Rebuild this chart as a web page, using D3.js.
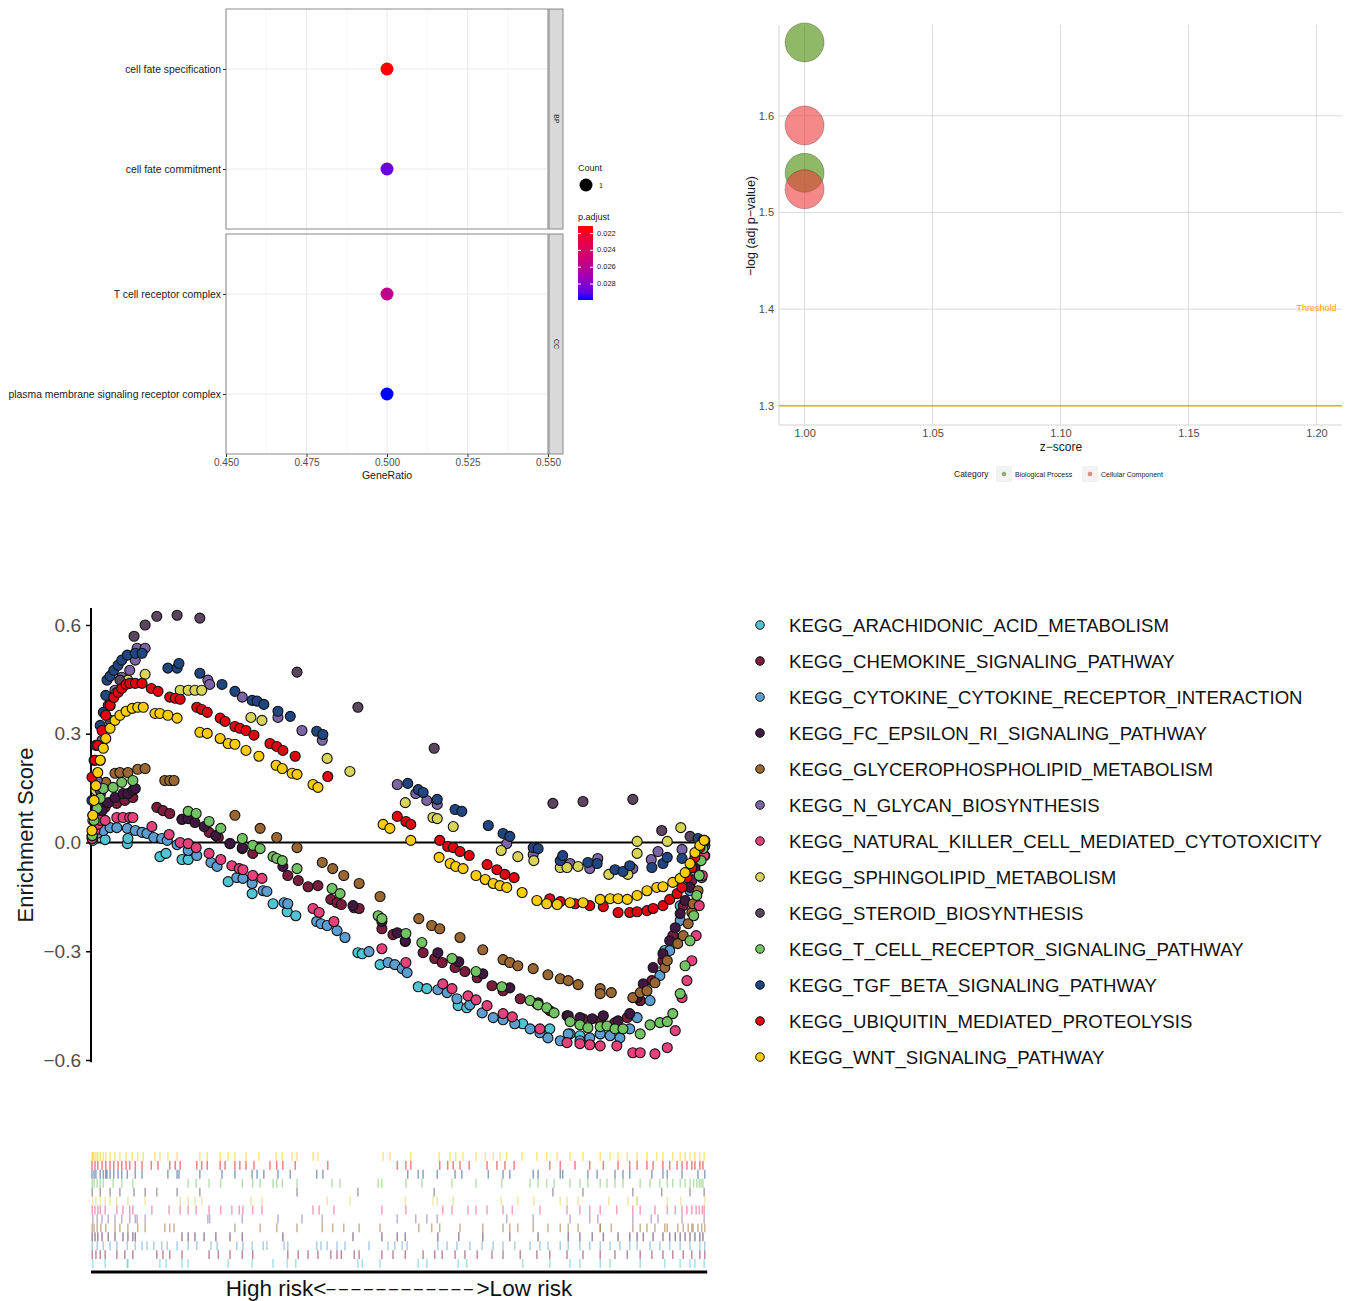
<!DOCTYPE html>
<html>
<head>
<meta charset="UTF-8">
<script src="https://d3js.org/d3.v7.min.js"></script>
<style>
    body { margin: 0; background: #fff; }
    svg { font-family: "Liberation Sans", Arial, sans-serif; }
</style>
</head>
<body>
<svg></svg>
<script>
    let width = 1346, height = 1301;

    // ---- GO dot plot data
    let goTerms = ["cell fate specification", "cell fate commitment", "T cell receptor complex", "plasma membrane signaling receptor complex"];
    let goOntology = ["BP", "BP", "CC", "CC"];
    let geneRatio = [0.5, 0.5, 0.5, 0.5];
    let goCount = [1, 1, 1, 1];
    let pAdjust = [0.0211, 0.0288, 0.0257, 0.0299];
    let ratioTicks = [0.450, 0.475, 0.500, 0.525, 0.550];
    let pTicks = [0.022, 0.024, 0.026, 0.028];

    // ---- GO bubble data
    let zScore = [1, 1, 1, 1];
    let bubbleCategory = ["Biological Process", "Biological Process", "Cellular Component", "Cellular Component"];
    let negLogP = [1.676, 1.541, 1.590, 1.524];
    let zTicks = [1.00, 1.05, 1.10, 1.15, 1.20];
    let logTicks = [1.3, 1.4, 1.5, 1.6];
    let threshold = 1.3;

    // ---- GSEA running scores, [rank % of list, enrichment score] at each hit
    let arachidonic = [[0.3,0.006],[2.3,0.008],[5.9,-0.003],[6.0,0.011],[11.2,-0.039],[12.2,-0.030],[14.8,-0.047],[15.8,-0.047],[22.3,-0.108],[26.2,-0.141],[29.6,-0.169],[31.9,-0.191],[33.3,-0.202],[43.4,-0.304],[44.1,-0.307],[47.0,-0.337],[53.2,-0.398],[54.6,-0.403],[59.7,-0.450],[61.1,-0.456],[70.2,-0.500],[74.6,-0.514],[77.9,-0.528],[79.5,-0.533],[82.8,-0.528],[84.4,-0.506],[89.3,-0.436],[93.3,-0.298],[95.8,-0.174],[97.4,-0.124],[98.2,-0.077],[99.7,-0.011]];
    let chemokine = [[0.2,0.017],[0.8,0.047],[1.5,0.075],[2.3,0.097],[4.2,0.108],[5.5,0.116],[6.8,0.124],[10.7,0.097],[11.7,0.088],[12.8,0.080],[14.8,0.064],[19.2,0.028],[20.7,0.014],[22.6,-0.003],[24.6,-0.017],[26.3,-0.030],[32.0,-0.091],[33.7,-0.105],[35.3,-0.122],[36.9,-0.119],[39.0,-0.157],[40.0,-0.166],[40.7,-0.171],[42.8,-0.180],[43.6,-0.182],[47.3,-0.238],[49.1,-0.254],[51.1,-0.273],[54.0,-0.304],[55.9,-0.320],[57.1,-0.331],[59.2,-0.345],[60.8,-0.356],[62.8,-0.373],[65.2,-0.395],[67.0,-0.409],[69.8,-0.431],[72.5,-0.445],[74.6,-0.464],[77.4,-0.478],[80.0,-0.486],[82.8,-0.492],[85.2,-0.497],[87.2,-0.483],[89.3,-0.436],[91.2,-0.381],[93.0,-0.326],[94.6,-0.257],[96.3,-0.174],[97.7,-0.105],[99.0,-0.050],[99.8,-0.008]];
    let cytokine = [[0.2,0.011],[1.0,0.025],[2.0,0.033],[3.1,0.041],[4.2,0.041],[5.9,0.039],[7.2,0.033],[8.3,0.028],[9.1,0.025],[10.2,0.014],[11.5,0.011],[12.4,0.006],[14.0,-0.006],[15.8,-0.022],[17.2,-0.036],[19.5,-0.055],[20.5,-0.066],[23.7,-0.097],[24.7,-0.099],[26.2,-0.113],[28.0,-0.133],[28.6,-0.135],[31.4,-0.166],[32.0,-0.169],[36.7,-0.218],[37.4,-0.224],[38.4,-0.229],[40.0,-0.243],[41.3,-0.262],[45.2,-0.301],[48.3,-0.331],[49.4,-0.337],[50.6,-0.348],[51.4,-0.359],[56.4,-0.406],[57.9,-0.414],[59.5,-0.431],[61.6,-0.448],[63.6,-0.470],[65.4,-0.483],[67.0,-0.489],[68.9,-0.500],[71.4,-0.514],[73.0,-0.525],[74.3,-0.539],[76.3,-0.547],[77.6,-0.528],[79.5,-0.547],[81.1,-0.539],[82.8,-0.528],[84.4,-0.533],[86.0,-0.539],[87.6,-0.514],[88.8,-0.483],[90.9,-0.436],[92.5,-0.367],[94.1,-0.298],[95.8,-0.215],[97.4,-0.133],[99.0,-0.050],[99.8,-0.008]];
    let fcEpsilon = [[0.2,0.014],[0.65,0.039],[1.1,0.066],[1.8,0.088],[2.8,0.110],[3.9,0.124],[5.2,0.135],[6.0,0.135],[6.8,0.144],[7.2,0.149],[14.8,0.064],[15.8,0.066],[16.9,0.055],[18.4,0.044],[20.3,0.019],[22.6,-0.003],[24.6,-0.014],[31.2,-0.066],[42.6,-0.174],[47.3,-0.218],[49.8,-0.249],[51.1,-0.271],[56.4,-0.304],[59.8,-0.329],[63.7,-0.362],[68.1,-0.401],[72.7,-0.442],[77.6,-0.478],[79.5,-0.483],[81.5,-0.486],[83.3,-0.478],[85.7,-0.492],[87.6,-0.472],[88.8,-0.428],[89.8,-0.390],[91.4,-0.345],[93.0,-0.307],[94.1,-0.271],[95.0,-0.235],[95.8,-0.196],[96.6,-0.160],[97.4,-0.124],[98.2,-0.069],[99.0,-0.030],[99.5,-0.008]];
    let glycero = [[0.2,0.019],[0.5,0.061],[1.0,0.102],[1.6,0.138],[2.4,0.166],[3.9,0.191],[4.7,0.193],[6.0,0.193],[7.6,0.202],[8.8,0.204],[12.0,0.171],[12.8,0.171],[13.5,0.171],[23.4,0.075],[27.5,0.039],[30.2,0.014],[33.5,-0.014],[37.6,-0.055],[39.3,-0.072],[41.1,-0.091],[43.6,-0.113],[47.0,-0.149],[53.3,-0.210],[55.4,-0.229],[56.7,-0.238],[60.0,-0.262],[63.7,-0.296],[67.0,-0.323],[68.1,-0.331],[69.4,-0.340],[71.9,-0.348],[74.3,-0.365],[76.3,-0.376],[77.6,-0.381],[79.2,-0.392],[82.8,-0.403],[82.8,-0.417],[84.6,-0.414],[88.1,-0.428],[89.3,-0.414],[90.4,-0.409],[91.7,-0.387],[93.3,-0.345],[93.7,-0.326],[95.4,-0.279],[96.3,-0.257],[97.1,-0.224],[97.7,-0.193],[97.9,-0.169],[98.7,-0.133],[99.3,-0.097],[99.8,-0.036]];
    let nGlycan = [[0.3,0.075],[1.0,0.171],[1.8,0.282],[2.8,0.378],[3.9,0.420],[5.0,0.456],[6.3,0.475],[7.2,0.503],[7.5,0.536],[8.8,0.536],[19.0,0.448],[19.3,0.436],[24.6,0.401],[30.4,0.345],[34.3,0.309],[37.6,0.282],[49.8,0.160],[52.8,0.135],[54.6,0.116],[56.3,0.105],[67.6,-0.003],[71.9,-0.033],[77.9,-0.058],[81.1,-0.072],[82.4,-0.044],[88.1,-0.072],[91.1,-0.047],[92.2,-0.025],[96.1,-0.019],[99.7,0.003]];
    let nkCell = [[0.2,0.011],[0.65,0.033],[1.1,0.050],[1.5,0.061],[2.3,0.061],[4.2,0.069],[5.2,0.069],[6.3,0.069],[6.8,0.069],[9.9,0.044],[12.7,0.022],[14.5,0.000],[15.8,-0.003],[17.1,-0.014],[19.2,-0.030],[21.1,-0.047],[22.9,-0.064],[24.1,-0.072],[24.7,-0.075],[26.3,-0.091],[27.8,-0.099],[36.1,-0.182],[37.1,-0.193],[39.5,-0.218],[47.3,-0.293],[51.2,-0.331],[57.2,-0.390],[58.7,-0.403],[61.3,-0.423],[62.6,-0.434],[64.4,-0.450],[67.0,-0.472],[68.5,-0.481],[73.0,-0.514],[77.4,-0.552],[79.5,-0.555],[81.1,-0.558],[82.8,-0.561],[85.5,-0.561],[88.1,-0.580],[89.3,-0.580],[91.7,-0.583],[93.7,-0.566],[95.0,-0.519],[96.1,-0.428],[96.9,-0.381],[97.7,-0.326],[98.4,-0.257],[98.9,-0.174],[99.4,-0.091],[99.7,-0.036]];
    let sphingo = [[0.3,0.061],[0.8,0.144],[1.5,0.227],[2.3,0.309],[3.1,0.378],[4.2,0.414],[6.0,0.448],[8.8,0.464],[14.5,0.420],[15.8,0.420],[16.9,0.420],[18.0,0.420],[26.0,0.345],[27.8,0.337],[38.4,0.232],[42.1,0.196],[51.1,0.110],[55.6,0.069],[56.3,0.066],[58.9,0.044],[66.7,-0.022],[69.4,-0.039],[72.0,-0.050],[76.3,-0.069],[77.4,-0.069],[79.2,-0.066],[84.2,-0.088],[87.3,-0.088],[88.8,-0.030],[88.8,0.003],[93.7,0.003],[95.9,0.041],[99.8,0.003]];
    let steroid = [[0.2,0.019],[1.5,0.144],[3.1,0.337],[4.7,0.448],[7.0,0.569],[8.8,0.600],[10.7,0.624],[14.0,0.627],[17.7,0.619],[33.5,0.470],[43.4,0.373],[55.8,0.260],[75.1,0.108],[80.0,0.113],[88.1,0.119],[92.8,0.033],[97.4,0.017],[99.7,0.006]];
    let tCell = [[0.2,0.019],[0.5,0.061],[1.0,0.094],[1.5,0.122],[2.0,0.149],[3.6,0.152],[5.0,0.166],[6.8,0.171],[15.8,0.086],[17.1,0.080],[19.2,0.058],[21.1,0.039],[24.6,0.011],[26.3,-0.008],[27.5,-0.017],[29.6,-0.039],[30.2,-0.044],[31.1,-0.050],[33.5,-0.072],[39.2,-0.127],[40.5,-0.141],[46.7,-0.202],[47.3,-0.210],[51.2,-0.251],[53.8,-0.276],[58.7,-0.320],[62.6,-0.356],[66.8,-0.398],[71.4,-0.436],[72.7,-0.448],[74.1,-0.456],[75.3,-0.470],[77.9,-0.494],[79.5,-0.503],[80.8,-0.511],[82.8,-0.508],[83.9,-0.506],[85.2,-0.514],[86.5,-0.514],[89.3,-0.528],[90.9,-0.503],[92.5,-0.497],[93.7,-0.494],[94.6,-0.472],[95.8,-0.417],[96.6,-0.340],[97.4,-0.271],[98.0,-0.202],[98.5,-0.146],[98.9,-0.091],[99.2,-0.050],[99.5,-0.017]];
    let tgfBeta = [[0.16,0.116],[0.5,0.227],[0.8,0.268],[1.5,0.323],[2.0,0.359],[2.4,0.406],[2.6,0.448],[3.1,0.459],[3.7,0.475],[4.4,0.489],[5.0,0.503],[5.9,0.517],[7.2,0.522],[8.3,0.522],[12.5,0.481],[14.0,0.481],[14.3,0.494],[17.7,0.467],[21.3,0.436],[23.4,0.417],[26.2,0.392],[27.0,0.390],[28.1,0.381],[30.4,0.362],[32.4,0.348],[36.7,0.307],[37.7,0.298],[51.5,0.163],[53.2,0.146],[54.0,0.138],[56.3,0.119],[59.2,0.091],[60.3,0.086],[64.6,0.047],[67.0,0.025],[68.1,0.017],[71.9,-0.014],[72.7,-0.017],[76.3,-0.050],[76.7,-0.036],[80.8,-0.055],[82.3,-0.058],[85.2,-0.075],[86.5,-0.080],[87.6,-0.064],[91.2,-0.069],[93.0,-0.058],[93.7,-0.041],[96.1,-0.044],[98.7,0.011],[99.8,0.005]];
    let ubiquitin = [[0.16,0.180],[0.65,0.227],[1.1,0.268],[1.8,0.309],[2.4,0.351],[3.1,0.378],[3.7,0.400],[4.4,0.414],[5.0,0.425],[5.7,0.436],[6.3,0.439],[7.2,0.439],[8.3,0.439],[9.8,0.425],[10.9,0.417],[12.8,0.401],[13.7,0.398],[14.5,0.395],[17.2,0.373],[18.0,0.367],[18.9,0.359],[21.0,0.343],[21.8,0.334],[23.4,0.320],[24.2,0.315],[25.2,0.309],[26.5,0.296],[29.1,0.273],[30.2,0.265],[31.2,0.254],[33.2,0.238],[38.5,0.182],[49.8,0.072],[51.2,0.058],[52.0,0.050],[56.7,0.006],[58.0,-0.011],[58.9,-0.014],[60.0,-0.025],[61.5,-0.036],[64.4,-0.061],[66.0,-0.075],[67.3,-0.088],[68.8,-0.097],[74.6,-0.155],[76.3,-0.163],[78.7,-0.169],[81.1,-0.174],[83.3,-0.177],[85.7,-0.193],[87.6,-0.193],[88.8,-0.191],[90.4,-0.188],[91.4,-0.182],[93.0,-0.174],[94.1,-0.157],[95.3,-0.141],[96.1,-0.124],[96.9,-0.097],[97.7,-0.069],[98.2,-0.041],[99.0,-0.014],[99.5,0.006]];
    let wnt = [[0.16,0.033],[0.3,0.075],[0.5,0.116],[0.8,0.157],[1.1,0.193],[1.5,0.227],[2.0,0.260],[2.4,0.287],[3.1,0.315],[3.9,0.337],[4.7,0.351],[5.7,0.362],[6.7,0.370],[7.6,0.373],[8.5,0.373],[10.4,0.356],[11.2,0.356],[12.5,0.351],[14.0,0.343],[17.7,0.304],[18.9,0.301],[21.0,0.287],[22.3,0.273],[23.4,0.271],[25.2,0.254],[27.3,0.238],[30.1,0.213],[31.1,0.204],[32.7,0.191],[33.5,0.188],[36.1,0.160],[36.9,0.152],[47.5,0.050],[48.6,0.039],[52.0,0.006],[56.6,-0.041],[58.4,-0.058],[59.3,-0.066],[60.5,-0.072],[62.6,-0.091],[64.1,-0.102],[65.4,-0.113],[66.5,-0.119],[67.6,-0.124],[70.1,-0.138],[72.5,-0.160],[74.1,-0.169],[75.8,-0.171],[77.9,-0.166],[80.0,-0.166],[82.8,-0.157],[84.4,-0.155],[85.7,-0.155],[87.2,-0.157],[88.8,-0.146],[90.4,-0.133],[92.0,-0.124],[93.0,-0.122],[94.6,-0.110],[95.8,-0.099],[96.6,-0.083],[97.4,-0.058],[98.2,-0.028],[99.0,-0.008],[99.7,0.006]];

    let pathwayNames = ["KEGG_ARACHIDONIC_ACID_METABOLISM", "KEGG_CHEMOKINE_SIGNALING_PATHWAY", "KEGG_CYTOKINE_CYTOKINE_RECEPTOR_INTERACTION",
        "KEGG_FC_EPSILON_RI_SIGNALING_PATHWAY", "KEGG_GLYCEROPHOSPHOLIPID_METABOLISM", "KEGG_N_GLYCAN_BIOSYNTHESIS",
        "KEGG_NATURAL_KILLER_CELL_MEDIATED_CYTOTOXICITY", "KEGG_SPHINGOLIPID_METABOLISM", "KEGG_STEROID_BIOSYNTHESIS",
        "KEGG_T_CELL_RECEPTOR_SIGNALING_PATHWAY", "KEGG_TGF_BETA_SIGNALING_PATHWAY", "KEGG_UBIQUITIN_MEDIATED_PROTEOLYSIS", "KEGG_WNT_SIGNALING_PATHWAY"];
    let pathwayColors = ["#50c4d3", "#7b1c3c", "#5c9ed2", "#3f1842", "#9a6631", "#7b65a6", "#e5417d", "#d8d45a", "#5b455f", "#72c463", "#1f4681", "#e3000f", "#ffcc00"];
    let pathwayScores = [arachidonic, chemokine, cytokine, fcEpsilon, glycero, nGlycan, nkCell, sphingo, steroid, tCell, tgfBeta, ubiquitin, wnt];
    let esTicks = [-0.6, -0.3, 0.0, 0.3, 0.6];

    let svg = d3.select("svg")
        .attr("width", width)
        .attr("height", height);

    // ================= top left: GO dot plot =================
    let dot = svg.append("g");
    let xDot = d3.scaleLinear().domain([0.45, 0.55]).range([226, 548]);
    let pColor = d3.scaleLinear()
        .domain(d3.extent(pAdjust))
        .range(["red", "blue"])
        .interpolate(d3.interpolateLab);
    let facets = [{ name: "BP", top: 9 }, { name: "CC", top: 234 }];
    let panelH = 220;

    facets.forEach(f => {
        let terms = goTerms.filter((t, i) => goOntology[i] == f.name);
        let yDot = d3.scalePoint().domain(terms).range([f.top + 60, f.top + 160]);
        let g = dot.append("g");

        // minor and major vertical grid
        d3.range(0.4625, 0.55, 0.025).forEach(v => {
            g.append("line").attr("x1", xDot(v)).attr("x2", xDot(v))
                .attr("y1", f.top).attr("y2", f.top + panelH)
                .attr("stroke", "#f2f2f2").attr("stroke-width", 0.6);
        });
        ratioTicks.forEach(v => {
            g.append("line").attr("x1", xDot(v)).attr("x2", xDot(v))
                .attr("y1", f.top).attr("y2", f.top + panelH)
                .attr("stroke", "#ebebeb").attr("stroke-width", 1);
        });
        terms.forEach(t => {
            g.append("line").attr("x1", 226).attr("x2", 548)
                .attr("y1", yDot(t)).attr("y2", yDot(t))
                .attr("stroke", "#ebebeb").attr("stroke-width", 1);
        });

        g.append("rect").attr("x", 226).attr("y", f.top).attr("width", 322).attr("height", panelH)
            .attr("fill", "none").attr("stroke", "#8a8a8a").attr("stroke-width", 1);
        g.append("rect").attr("x", 549).attr("y", f.top).attr("width", 14).attr("height", panelH)
            .attr("fill", "#d9d9d9").attr("stroke", "#8a8a8a").attr("stroke-width", 1);
        g.append("text")
            .attr("transform", "translate(556," + (f.top + panelH / 2) + ") rotate(90)")
            .attr("text-anchor", "middle").attr("dominant-baseline", "middle")
            .style("font-size", "7px").attr("fill", "#1a1a1a")
            .text(f.name);

        let ax = g.append("g").attr("transform", "translate(226,0)")
            .call(d3.axisLeft(yDot).tickSize(3).tickPadding(2));
        ax.select(".domain").remove();
        ax.selectAll("line").attr("stroke", "#333");
        ax.selectAll("text").style("font-size", "10.4px").attr("fill", "#1a1a1a").attr("font-family", null);

        g.selectAll("circle.go")
            .data(goTerms.map((t, i) => i).filter(i => goOntology[i] == f.name))
            .enter()
            .append("circle")
            .attr("cx", i => xDot(geneRatio[i]))
            .attr("cy", i => yDot(goTerms[i]))
            .attr("r", 6.5)
            .attr("fill", i => pColor(pAdjust[i]));
    });

    let xAxDot = dot.append("g").attr("transform", "translate(0,454)")
        .call(d3.axisBottom(xDot).tickValues(ratioTicks).tickFormat(d3.format(".3f")).tickSize(3).tickPadding(2));
    xAxDot.select(".domain").remove();
    xAxDot.selectAll("line").attr("stroke", "#333");
    xAxDot.selectAll("text").style("font-size", "10px").attr("fill", "#4d4d4d").attr("font-family", null);
    dot.append("text").attr("x", 387).attr("y", 479).attr("text-anchor", "middle")
        .style("font-size", "10.5px").attr("fill", "#1a1a1a").text("GeneRatio");

    // size + colour legends
    dot.append("text").attr("x", 578).attr("y", 171).style("font-size", "9px").attr("fill", "#1a1a1a").text("Count");
    dot.append("circle").attr("cx", 586).attr("cy", 185).attr("r", 6.5).attr("fill", "#000");
    dot.append("text").attr("x", 599).attr("y", 188).style("font-size", "7px").attr("fill", "#1a1a1a").text(goCount[0]);
    dot.append("text").attr("x", 578).attr("y", 220).style("font-size", "9px").attr("fill", "#1a1a1a").text("p.adjust");

    let defs = svg.append("defs");
    let grad = defs.append("linearGradient").attr("id", "pgrad")
        .attr("x1", 0).attr("x2", 0).attr("y1", 0).attr("y2", 1);
    d3.range(0, 1.001, 0.1).forEach(t => {
        let pv = pColor.domain()[0] + t * (pColor.domain()[1] - pColor.domain()[0]);
        grad.append("stop").attr("offset", t).attr("stop-color", pColor(pv));
    });
    let pLegend = d3.scaleLinear().domain(pColor.domain()).range([226, 300]);
    dot.append("rect").attr("x", 578).attr("y", 226).attr("width", 15).attr("height", 74).attr("fill", "url(#pgrad)");
    pTicks.forEach(v => {
        dot.append("line").attr("x1", 578).attr("x2", 581).attr("y1", pLegend(v)).attr("y2", pLegend(v)).attr("stroke", "#fff");
        dot.append("line").attr("x1", 590).attr("x2", 593).attr("y1", pLegend(v)).attr("y2", pLegend(v)).attr("stroke", "#fff");
        dot.append("text").attr("x", 597).attr("y", pLegend(v)).attr("dominant-baseline", "middle")
            .style("font-size", "7.5px").attr("fill", "#1a1a1a").text(d3.format(".3f")(v));
    });

    // ================= top right: GO bubble plot =================
    let bub = svg.append("g");
    let xB = d3.scaleLinear().domain([0.99, 1.21]).range([779, 1342]);
    let yB = d3.scaleLinear().domain([1.28, 1.694]).range([425, 25]);
    let catColor = d3.scaleOrdinal().domain(["Biological Process", "Cellular Component"]).range(["#458b00", "#ee3b3b"]);

    zTicks.forEach(v => {
        bub.append("line").attr("x1", xB(v)).attr("x2", xB(v)).attr("y1", 25).attr("y2", 425)
            .attr("stroke", "#d9d9d9").attr("stroke-width", 1);
    });
    logTicks.forEach(v => {
        bub.append("line").attr("x1", 779).attr("x2", 1342).attr("y1", yB(v)).attr("y2", yB(v))
            .attr("stroke", "#d9d9d9").attr("stroke-width", 1);
    });
    bub.append("path").attr("d", "M779,25V425H1342").attr("fill", "none").attr("stroke", "#d4d4d4").attr("stroke-width", 1);

    let xAxB = bub.append("g").attr("transform", "translate(0,425)")
        .call(d3.axisBottom(xB).tickValues(zTicks).tickFormat(d3.format(".2f")).tickSize(0).tickPadding(4));
    xAxB.select(".domain").remove();
    xAxB.selectAll("text").style("font-size", "11px").attr("fill", "#4d4d4d").attr("font-family", null);
    let yAxB = bub.append("g").attr("transform", "translate(779,0)")
        .call(d3.axisLeft(yB).tickValues(logTicks).tickFormat(d3.format(".1f")).tickSize(0).tickPadding(5));
    yAxB.select(".domain").remove();
    yAxB.selectAll("text").style("font-size", "11px").attr("fill", "#4d4d4d").attr("font-family", null);

    bub.append("text").attr("x", 1061).attr("y", 451).attr("text-anchor", "middle")
        .style("font-size", "12px").attr("fill", "#1a1a1a").text("z\u2212score");
    bub.append("text").attr("transform", "translate(755,226) rotate(-90)").attr("text-anchor", "middle")
        .style("font-size", "12.5px").attr("fill", "#1a1a1a").text("\u2212log (adj p\u2212value)");

    bub.append("line").attr("x1", 779).attr("x2", 1342).attr("y1", yB(threshold)).attr("y2", yB(threshold))
        .attr("stroke", "orange").attr("stroke-width", 1.5);
    bub.append("text").attr("x", xB(1.2)).attr("y", yB(1.4)).attr("text-anchor", "middle").attr("dominant-baseline", "middle")
        .style("font-size", "9px").attr("fill", "orange").text("Threshold");

    bub.selectAll("circle.b")
        .data(zScore.map((z, i) => i))
        .enter()
        .append("circle")
        .attr("cx", i => xB(zScore[i]))
        .attr("cy", i => yB(negLogP[i]))
        .attr("r", 19.5)
        .attr("fill", i => catColor(bubbleCategory[i]))
        .attr("fill-opacity", 0.6)
        .attr("stroke", "#000")
        .attr("stroke-opacity", 0.35)
        .attr("stroke-width", 0.7);

    bub.append("text").attr("x", 954).attr("y", 477).style("font-size", "8.5px").attr("fill", "#1a1a1a").text("Category");
    catColor.domain().forEach((c, i) => {
        let lx = [996, 1082][i];
        bub.append("rect").attr("x", lx).attr("y", 466).attr("width", 16).attr("height", 16).attr("fill", "#f2f2f2");
        bub.append("circle").attr("cx", lx + 8).attr("cy", 474).attr("r", 2)
            .attr("fill", catColor(c)).attr("fill-opacity", 0.6).attr("stroke", "#000").attr("stroke-opacity", 0.3).attr("stroke-width", 0.5);
        bub.append("text").attr("x", lx + 19).attr("y", 477).style("font-size", "7px").attr("fill", "#1a1a1a").text(c);
    });

    // ================= bottom: GSEA running enrichment scores =================
    let gs = svg.append("g");
    let x = d3.scaleLinear().domain([0, 100]).range([91, 706]);
    let y = d3.scaleLinear().domain([-0.6, 0.6]).range([1060, 625]);

    gs.append("line").attr("x1", x(0)).attr("x2", x(100.2)).attr("y1", y(0)).attr("y2", y(0))
        .attr("stroke", "#000").attr("stroke-width", 2);
    gs.append("line").attr("x1", x(0)).attr("x2", x(0)).attr("y1", y(0.647)).attr("y2", y(-0.606))
        .attr("stroke", "#000").attr("stroke-width", 2);

    let yAx = gs.append("g").attr("transform", "translate(" + x(0) + ",0)")
        .call(d3.axisLeft(y).tickValues(esTicks).tickFormat(d3.format(".1f")).tickSize(5).tickPadding(5));
    yAx.select(".domain").remove();
    yAx.selectAll("line").attr("stroke", "#000").attr("stroke-width", 1.5);
    yAx.selectAll("text").style("font-size", "19px").attr("fill", "#4d4d4d").attr("font-family", null);

    gs.append("text").attr("transform", "translate(33,835) rotate(-90)").attr("text-anchor", "middle")
        .style("font-size", "22px").attr("fill", "#1a1a1a").text("Enrichment Score");

    pathwayScores.forEach((pts, k) => {
        gs.append("g")
            .selectAll("circle")
            .data(pts)
            .enter()
            .append("circle")
            .attr("cx", d => x(d[0]))
            .attr("cy", d => y(d[1]))
            .attr("r", 5)
            .attr("fill", pathwayColors[k])
            .attr("stroke", "#111")
            .attr("stroke-width", 1.1);
    });

    // rug of hit positions, one row per pathway (WNT on top)
    let rowScale = d3.scaleBand().domain(d3.range(13)).range([1152, 1268]);
    pathwayScores.forEach((pts, k) => {
        let row = 12 - k;
        gs.append("g")
            .selectAll("line")
            .data(pts)
            .enter()
            .append("line")
            .attr("x1", d => x(d[0]))
            .attr("x2", d => x(d[0]))
            .attr("y1", rowScale(row))
            .attr("y2", rowScale(row) + rowScale.bandwidth())
            .attr("stroke", pathwayColors[k])
            .attr("stroke-opacity", 0.5)
            .attr("stroke-width", 1.5);
    });
    gs.append("line").attr("x1", x(0)).attr("x2", x(100.2)).attr("y1", 1272).attr("y2", 1272)
        .attr("stroke", "#000").attr("stroke-width", 3);
    let risk = gs.append("text").attr("x", 399).attr("y", 1296).attr("text-anchor", "middle")
        .style("font-size", "22.5px").attr("fill", "#111");
    risk.append("tspan").text("High risk<");
    risk.append("tspan").attr("dy", -2).style("font-size", "16px").attr("letter-spacing", "3.6px")
        .text("\u2013\u2013\u2013\u2013\u2013\u2013\u2013\u2013\u2013\u2013\u2013\u2013");
    risk.append("tspan").attr("dy", 2).text(">Low risk");

    // legend
    let leg = svg.append("g");
    pathwayNames.forEach((n, i) => {
        let ly = 625 + i * 36;
        leg.append("circle").attr("cx", 760).attr("cy", ly).attr("r", 4.3)
            .attr("fill", pathwayColors[i]).attr("stroke", "#111").attr("stroke-width", 1);
        leg.append("text").attr("x", 789).attr("y", ly + 7).attr("dominant-baseline", "alphabetic")
            .style("font-size", "18.6px").attr("fill", "#111").text(n);
    });
</script>
</body>
</html>
